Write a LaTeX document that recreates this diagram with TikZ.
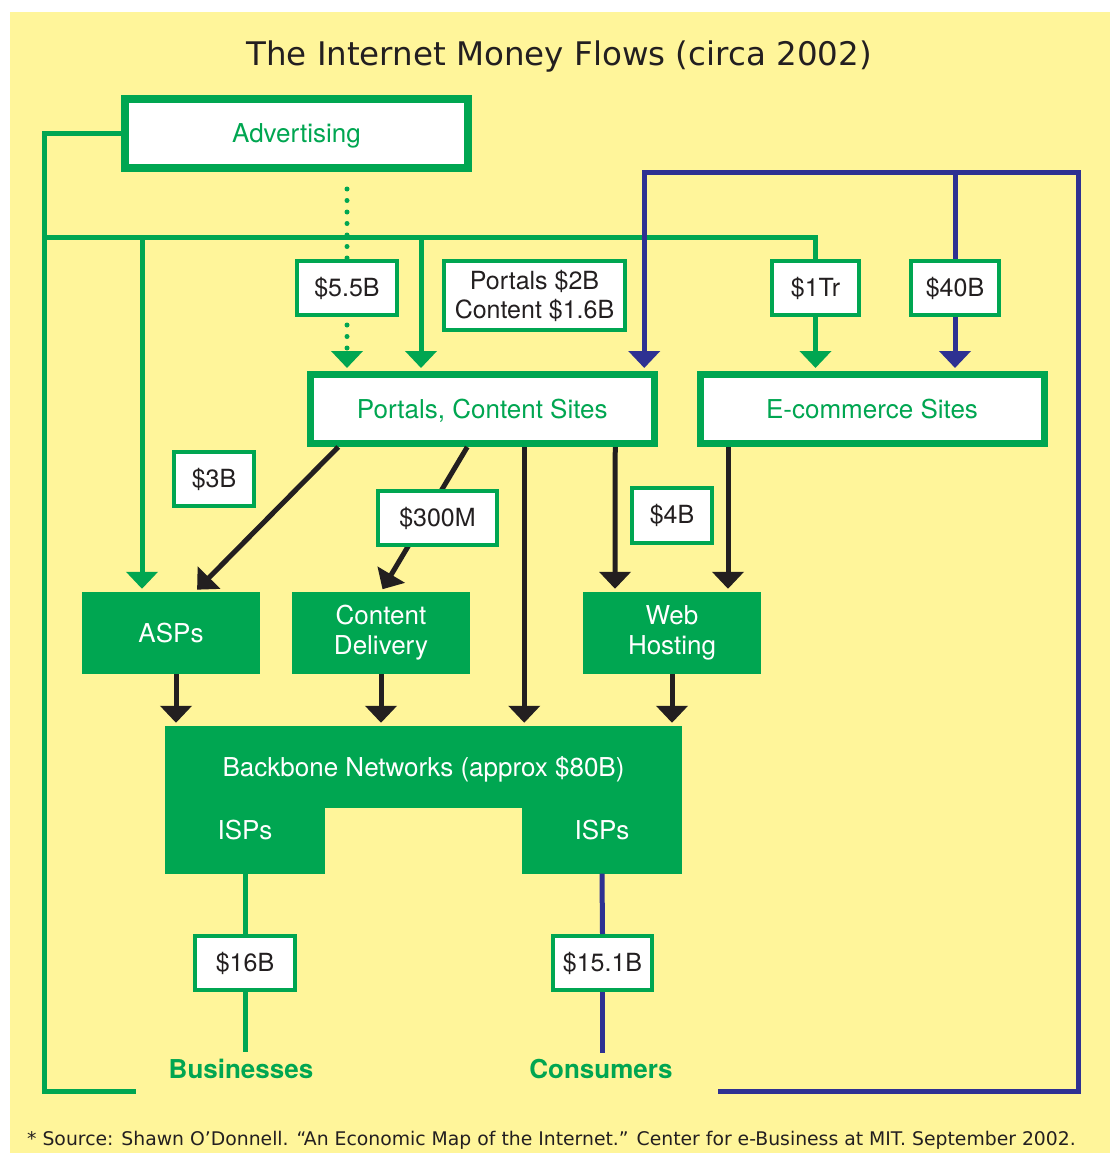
\documentclass[tikz,border=0pt]{standalone}
\usepackage{fontspec}
\usetikzlibrary{arrows.meta, positioning}
\newfontfamily\helv{TeX Gyre Heros}
\newfontfamily\verd{DejaVu Sans}
\definecolor{verde}{HTML}{00A651}
\definecolor{blu}{HTML}{2E3192}
\definecolor{inchiostro}{HTML}{231F20}
\definecolor{giallo}{HTML}{FFF59A}
\tikzset{
  punta/.style={-{Triangle[width=31pt,length=17pt]}, shorten >=3pt},
  gline/.style={draw=verde, line width=5pt},
  garrow/.style={gline, punta},
  gdot/.style={draw=verde, line width=5pt, line cap=round, dash pattern=on 0pt off 11.5pt},
  bline/.style={draw=blu, line width=5pt},
  barrow/.style={bline, punta},
  karrow/.style={draw=inchiostro, line width=5pt, punta},
  bigbox/.style={draw=verde, line width=7pt, fill=white, text=verde, inner sep=0pt,
    minimum height=69pt, text height=18.5pt, text depth=0pt, font=\helv\fontsize{26}{30}\selectfont},
  svc/.style={fill=verde, text=white, inner sep=0pt, align=center,
    minimum width=178pt, minimum height=82pt, font=\helv\fontsize{26}{30}\selectfont},
  bbpart/.style={fill=verde, text=white, inner sep=0pt, font=\helv\fontsize{26}{30}\selectfont},
  isptext/.style={text=white, font=\helv\fontsize{26}{30}\selectfont, yshift=10pt},
  valbox/.style={draw=verde, line width=4pt, fill=white, text=inchiostro, inner sep=0pt,
    minimum height=54pt, font=\helv\fontsize{25}{29}\selectfont},
  who/.style={text=verde, inner sep=6pt, anchor=base, font=\helv\bfseries\fontsize{26}{30}\selectfont}
}
\begin{document}
\begin{tikzpicture}[x=1pt, y=-1pt]
  % Sfondo
  \useasboundingbox (0,0) rectangle (1110,1153);
  \fill[giallo] (10,12) rectangle (1110,1153);

  % Titolo
  \node[anchor=base, text=inchiostro, font=\verd\fontsize{32.5}{38}\selectfont] (title) at (559,66)
    {The Internet Money Flows (circa 2002)};

  % Riquadri principali
  \node[bigbox, line width=8pt, minimum width=343pt] (ads) at (296.5,133.5) {Advertising};
  \node[bigbox, minimum width=344.5pt] (portals) at (482.25,409) {Portals, Content Sites};
  \node[bigbox, minimum width=344pt] (ecom) at (872,409) {E-commerce Sites};

  % Servizi
  \node[svc] (asps) at (171,633) {ASPs};
  \node[svc] (cdn) at (381,633) {Content\\Delivery};
  \node[svc] (web) at (672,633) {Web\\Hosting};

  % Backbone
  \node[bbpart, minimum width=517pt, minimum height=82pt, text height=18.5pt, text depth=0pt] (bb) at (423.5,767)
    {Backbone Networks (approx \$80B)};
  \node[bbpart, minimum width=160pt, minimum height=67pt, label={[isptext]center:ISPs}] (ispl) at (245,840) {};
  \node[bbpart, minimum width=160pt, minimum height=67pt, label={[isptext]center:ISPs}] (ispr) at (602,840) {};

  % Destinatari
  \node[who] (biz) at (241,1078) {Businesses};
  \node[who] (cons) at (601,1078) {Consumers};

  % Importi
  \node[valbox, minimum width=100pt] (b55) at (347,288) {\$5.5B};
  \node[valbox, minimum width=181pt, minimum height=69pt, align=center] (pc) at (534.5,295.5)
    {Portals \$2B\\Content \$1.6B};
  \node[valbox, minimum width=87pt] (tr) at (815.5,288) {\$1Tr};
  \node[valbox, minimum width=88pt] (b40) at (955,288) {\$40B};
  \node[valbox, minimum width=80pt] (b3) at (214,479) {\$3B};
  \node[valbox, minimum width=80pt, minimum height=55pt] (b4) at (672,515.5) {\$4B};
  \node[valbox, minimum width=100pt] (b16) at (245,963) {\$16B};
  \node[valbox, minimum width=99pt] (b151) at (602.5,963) {\$15.1B};

  % Flussi verdi
  \coordinate (gcorner) at (44,1091);
  \coordinate (gbus) at (44,237);
  \draw[gline] (ads.west) -| (gcorner) -- ++(92,0);
  \draw[gline] (gbus) -| (tr.north);
  \draw[garrow] (142,0 |- gbus) -- (142,0 |- asps.north);
  \draw[garrow] (421,0 |- gbus) -- (421,0 |- portals.north);
  \draw[garrow] (tr.south) -- (tr.south |- ecom.north);
  \draw[gdot] (b55.north |- ads.south) ++(0,17) -- (b55.north);
  \draw[gdot, punta] (b55.south) ++(0,8) -- (b55.south |- portals.north);
  \draw[gline] (ispl.south) -- (b16.north);
  \draw[gline] (b16.south) -- (b16.south |- biz.north);

  % Flussi blu
  \coordinate (bfree) at (718,1091);
  \coordinate (btop) at (1078,172);
  \draw[barrow] (bfree) -| (btop) -| ([xshift=162pt]portals.north);
  \draw[bline] (955,0 |- btop) -- (b40.north);
  \draw[barrow] (b40.south) -- (b40.south |- ecom.north);
  \draw[bline] (ispr.south) -- (b151.north);
  \draw[bline] (b151.south) -- (b151.south |- cons.north);

  % Flussi neri
  \draw[karrow] ([xshift=-144pt]portals.south) -- ([xshift=24pt]asps.north);
  \draw[karrow] ([xshift=-15pt]portals.south) -- (cdn.north);
  \draw[karrow] ([xshift=42pt]portals.south) -- ([xshift=42pt]portals.south |- bb.north);
  \draw[karrow] ([xshift=133pt]portals.south) -- ([xshift=-57pt]web.north);
  \draw[karrow] ([xshift=-144pt]ecom.south) -- ([xshift=56pt]web.north);
  \draw[karrow] ([xshift=5pt]asps.south) -- ([xshift=5pt]asps.south |- bb.north);
  \draw[karrow] (cdn.south) -- (cdn.south |- bb.north);
  \draw[karrow] (web.south) -- (web.south |- bb.north);
  \node[valbox, minimum width=119pt] (m300) at (437.5,518) {\$300M};

  % Fonte
  \node[anchor=base west, inner sep=0pt, text=inchiostro, font=\verd\fontsize{18.8}{22}\selectfont] (src) at (27,1145)
    {* Source: Shawn O’Donnell. “An Economic Map of the Internet.” Center for e-Business at MIT. September 2002.};
\end{tikzpicture}
\end{document}
